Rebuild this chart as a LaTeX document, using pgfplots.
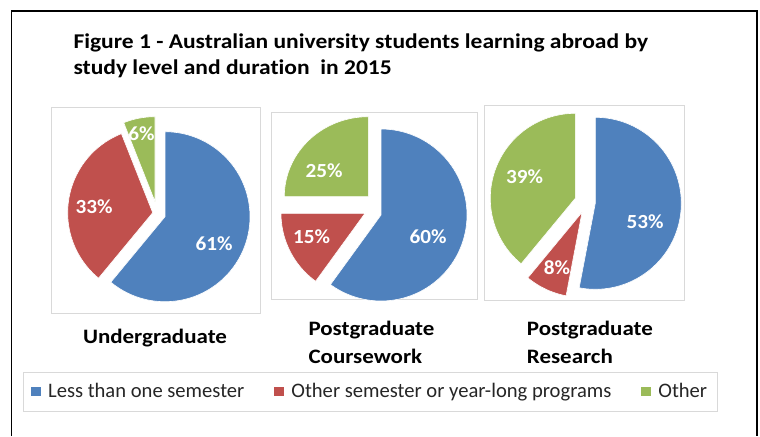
\documentclass[border=0pt]{standalone}
\usepackage{pgfplots}
\pgfplotsset{compat=1.18}
\usepackage{fontspec}
\setmainfont{Carlito}[Ligatures=NoCommon]
\newfontfamily\wide{Carlito}[Ligatures=NoCommon, FakeStretch=1.12]
\newfontfamily\semiwide{Carlito}[Ligatures=NoCommon, FakeStretch=1.06]
\definecolor{pblue}{HTML}{4F81BD}
\definecolor{pred}{HTML}{C0504D}
\definecolor{pgreen}{HTML}{9BBB59}
\definecolor{boxgray}{HTML}{D9D9D9}
\begin{document}
\begin{tikzpicture}
\begin{axis}[
  x=1pt, y=1pt, y dir=reverse,
  xmin=0, xmax=760, ymin=0, ymax=436,
  hide axis, scale only axis, clip=false,
  legend columns=3,
  legend cell align=left,
  legend style={at={(axis cs:22.7,371.7)}, anchor=north west,
    draw=boxgray, line width=0.8pt, inner xsep=8pt, inner ysep=9.5pt,
    font=\fontsize{20.6}{24}\selectfont, text=black!85,
    /tikz/every even column/.append style={column sep=28pt}},
  legend image code/.code={\path[draw=none, fill=none] (0pt,0pt) -- (15pt,0pt); \fill[#1, draw=none] (0pt,-4.5pt) rectangle (9.5pt,4.5pt);},
]
% background / page extent
\fill[white] (axis cs:0,0) rectangle (axis cs:760,436);
% legend entries
\addlegendimage{pblue}
\addlegendentry{Less than one semester}
\addlegendimage{pred}
\addlegendentry{Other semester or year-long programs}
\addlegendimage{pgreen}
\addlegendentry{Other\hspace{9pt}}
% outer frame
\draw[black, line width=1.2pt] (axis cs:11.5,436) -- (axis cs:11.5,11) -- (axis cs:757,11) -- (axis cs:757,436);
% pie boxes
\draw[boxgray, line width=0.8pt] (axis cs:51.7,107.7) rectangle (axis cs:260.7,313.3);
\draw[boxgray, line width=0.8pt] (axis cs:271,112.3) rectangle (axis cs:477.3,299);
\draw[boxgray, line width=0.8pt] (axis cs:484.7,105) rectangle (axis cs:684,300);

% ---- Undergraduate: 61% / 33% / 6% (start at 90 deg, clockwise) ----
% blue 61% : 90 -> 90-219.6
\addplot[forget plot, fill=pblue, draw=white, line width=0.6pt, domain=-129.6:90, samples=90]
  ({165+85*cos(x)}, {216.7-85*sin(x)}) -- (axis cs:165,216.7) -- cycle;
% red 33% : 230.4 -> 111.6
\addplot[forget plot, fill=pred, draw=white, line width=0.6pt, domain=111.6:230.4, samples=60]
  ({152.7+85*cos(x)}, {212.7-85*sin(x)}) -- (axis cs:152.7,212.7) -- cycle;
% green 6% : 111.6 -> 90
\addplot[forget plot, fill=pgreen, draw=white, line width=0.6pt, domain=90:111.6, samples=20]
  ({155+85*cos(x)}, {201.7-85*sin(x)}) -- (axis cs:155,201.7) -- cycle;

% ---- Postgraduate Coursework: 60% / 15% / 25% ----
\addplot[forget plot, fill=pblue, draw=white, line width=0.6pt, domain=-126:90, samples=90]
  ({381+86*cos(x)}, {215-86*sin(x)}) -- (axis cs:381,215) -- cycle;
\addplot[forget plot, fill=pred, draw=white, line width=0.6pt, domain=180:234, samples=30]
  ({365+84*cos(x)}, {213.3-84*sin(x)}) -- (axis cs:365,213.3) -- cycle;
\addplot[forget plot, fill=pgreen, draw=white, line width=0.6pt, domain=90:180, samples=45]
  ({368.3+84*cos(x)}, {196.7-80*sin(x)}) -- (axis cs:368.3,196.7) -- cycle;

% ---- Postgraduate Research: 53% / 8% / 39% ----
\addplot[forget plot, fill=pblue, draw=white, line width=0.6pt, domain=-100.8:90, samples=80]
  ({595.3+86*cos(x)}, {203.3-86*sin(x)}) -- (axis cs:595.3,203.3) -- cycle;
\addplot[forget plot, fill=pred, draw=white, line width=0.6pt, domain=230.4:259.2, samples=20]
  ({582+85*cos(x)}, {212.3-85*sin(x)}) -- (axis cs:582,212.3) -- cycle;
\addplot[forget plot, fill=pgreen, draw=white, line width=0.6pt, domain=90:230.4, samples=60]
  ({575.3+85*cos(x)}, {198.3-85*sin(x)}) -- (axis cs:575.3,198.3) -- cycle;

% slice labels
\begin{scope}[every node/.style={text=white, font=\semiwide\fontsize{20}{24}\selectfont\bfseries}]
\node at (axis cs:214,244) {61\%};
\node at (axis cs:94,207) {33\%};
\node at (axis cs:141.5,134) {6\%};
\node at (axis cs:324,171) {25\%};
\node at (axis cs:311.7,237) {15\%};
\node at (axis cs:428,237) {60\%};
\node at (axis cs:524.7,177) {39\%};
\node at (axis cs:645,222) {53\%};
\node at (axis cs:557,268) {8\%};
\end{scope}

% title
\begin{scope}[every node/.style={inner sep=0pt, font=\wide\fontsize{21}{26}\selectfont\bfseries}]
\node[anchor=base west] at (axis cs:73.3,48.3) {Figure 1 - Australian university students learning abroad by};
\node[anchor=base west] at (axis cs:73.3,74.3) {study level and duration\ \ in 2015};
\end{scope}

% category labels
\begin{scope}[every node/.style={inner sep=0pt, font=\wide\fontsize{20.5}{26}\selectfont\bfseries}]
\node[anchor=base] at (axis cs:155,343) {Undergraduate};
\node[anchor=base west] at (axis cs:308.3,335) {Postgraduate};
\node[anchor=base west] at (axis cs:308.3,363) {Coursework};
\node[anchor=base west] at (axis cs:526.7,335) {Postgraduate};
\node[anchor=base west] at (axis cs:526.7,363) {Research};
\end{scope}
\end{axis}
\end{tikzpicture}
\end{document}
